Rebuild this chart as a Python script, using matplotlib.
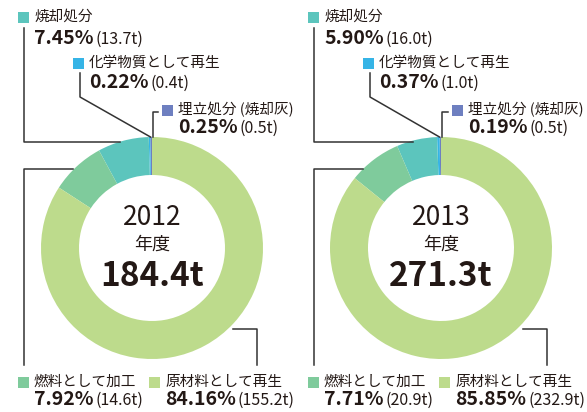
import matplotlib
matplotlib.use("Agg")
import matplotlib.pyplot as plt
from matplotlib.patches import Rectangle

plt.rcParams['font.family'] = ['Noto Sans CJK JP', 'DejaVu Sans']

# ---- data ----
categories = ["埋立処分 (焼却灰)", "化学物質として再生", "焼却処分", "燃料として加工", "原材料として再生"]
colors = ["#6e7fc0", "#36b4e6", "#5cc5bd", "#7fcb9c", "#bddb8c"]
years = ["2012", "2013"]
totals = ["184.4t", "271.3t"]
pct_2012 = [0.25, 0.22, 7.45, 7.92, 84.16]
ton_2012 = [0.5, 0.4, 13.7, 14.6, 155.2]
pct_2013 = [0.19, 0.37, 5.90, 7.71, 85.85]
ton_2013 = [0.5, 1.0, 16.0, 20.9, 232.9]

W, H = 587, 412
fig = plt.figure(figsize=(W / 100, H / 100), dpi=100)
ax = fig.add_axes([0, 0, 1, 1])
TXT = "#231815"
LINE = "#333333"


def Y(y):
    return H - y


panels = [(pct_2012, ton_2012, years[0], totals[0], 152, 0),
          (pct_2013, ton_2013, years[1], totals[1], 441, 290)]

R_OUT, R_W = 111, 38
CY = 248

# label layout: (category index, square x, square y-top, value baseline y)
label_layout = [
    (2, 18, 12, 44),
    (1, 73, 58, 88),
    (0, 162, 105, 133),
    (3, 18, 377, 405),
    (4, 149, 377, 405),
]

for pct, ton, yr, tot, cx, dx in panels:
    ax.pie(pct, colors=colors, startangle=90, counterclock=True,
           radius=R_OUT, center=(cx, Y(CY)),
           wedgeprops=dict(width=R_W, linewidth=0))
    # center text
    ax.text(cx, Y(217), yr, ha='center', va='center', fontsize=19, color=TXT)
    ax.text(cx, Y(245), "年度", ha='center', va='center', fontsize=13, color=TXT)
    ax.text(cx, Y(276), tot, ha='center', va='center', fontsize=24,
            fontweight='bold', color=TXT)

    # labels
    for idx, sx, sy, vb in label_layout:
        sx2 = sx + dx
        ax.add_patch(Rectangle((sx2, Y(sy + 11)), 11, 11, color=colors[idx], lw=0))
        ax.text(sx2 + 16, Y(sy + 5), categories[idx], ha='left', va='center',
                fontsize=10.5, color=TXT)
        vt = ax.text(sx2 + 16, Y(vb), f"{pct[idx]:.2f}%", ha='left', va='baseline',
                     fontsize=14, fontweight='bold', color=TXT)
        ax.annotate(f"({ton[idx]:.1f}t)", xy=(1, 0), xycoords=vt,
                    xytext=(1.5, 0), textcoords='offset points',
                    ha='left', va='bottom', fontsize=11.5, color=TXT)

    # leader lines
    lw = 1.1
    # 焼却処分
    ax.plot([24 + dx, 24 + dx, 120 + dx + (0 if dx == 0 else 3)],
            [Y(28), Y(142), Y(142)], color=LINE, lw=lw)
    # 化学物質
    ax.plot([80 + dx, 80 + dx, cx - 1.5], [Y(73), Y(97), Y(137)], color=LINE, lw=lw)
    # 埋立処分
    ax.plot([158 + dx, cx + 1, cx + 1], [Y(112), Y(112), Y(137)], color=LINE, lw=lw)
    # 燃料
    ax.plot([24 + dx, 24 + dx, 73 + dx], [Y(365), Y(169), Y(169)], color=LINE, lw=lw)
    # 原材料
    ax.plot([257 + dx, 257 + dx, 233 + dx], [Y(365), Y(329), Y(329)], color=LINE, lw=lw)

ax.set_xlim(0, W)
ax.set_ylim(0, H)
ax.set_aspect('equal')
ax.axis('off')
fig.savefig("out.png", dpi=100)
